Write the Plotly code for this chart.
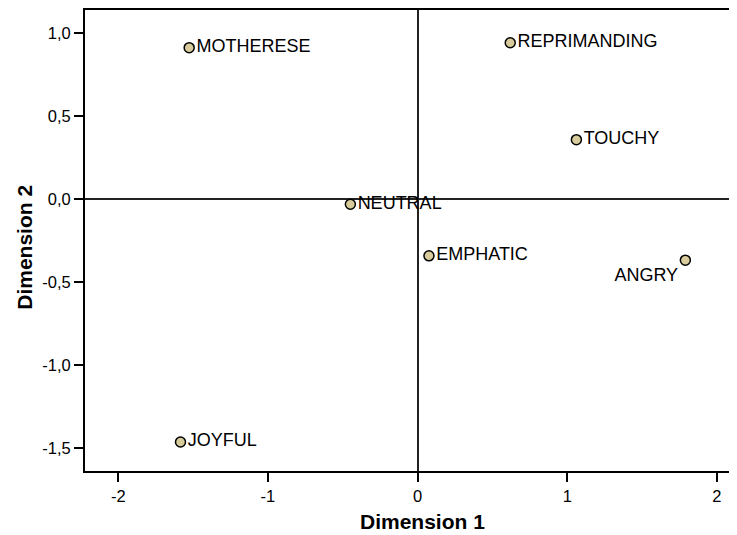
import plotly.graph_objects as go

labels = ["MOTHERESE", "REPRIMANDING", "TOUCHY", "NEUTRAL", "EMPHATIC", "ANGRY", "JOYFUL"]
dim1 = [-1.526, 0.619, 1.061, -0.449, 0.076, 1.789, -1.584]
dim2 = [0.913, 0.943, 0.359, -0.030, -0.341, -0.367, -1.462]
positions = ["middle right"] * 5 + ["bottom left", "middle right"]

x_ticks = [-2, -1, 0, 1, 2]
x_ticktext = ["-2", "-1", "0", "1", "2"]
y_ticks = [-1.5, -1.0, -0.5, 0.0, 0.5, 1.0]
y_ticktext = ["-1,5", "-1,0", "-0,5", "0,0", "0,5", "1,0"]

FONT = "Liberation Sans, Arial, sans-serif"

fig = go.Figure()
fig.add_trace(go.Scatter(
    x=dim1, y=dim2, mode="markers+text", text=labels, textposition=positions,
    marker=dict(size=10, color="#D8CC9C", line=dict(color="black", width=1.5)),
    textfont=dict(family=FONT, size=18, color="black"),
    cliponaxis=False, hoverinfo="skip", showlegend=False,
))

axis_font = dict(family=FONT, size=16.5, color="black")
fig.update_layout(
    width=729, height=527,
    margin=dict(l=77, r=0, t=2, b=64, autoexpand=False),
    plot_bgcolor="white", paper_bgcolor="white",
    xaxis=dict(range=[-2.222, 2.134], tickvals=x_ticks, ticktext=x_ticktext,
               showgrid=False, zeroline=True, zerolinecolor="#222", zerolinewidth=1.5,
               showline=True, linecolor="black", linewidth=2, mirror=True,
               ticks="outside", ticklen=9, tickwidth=2, tickcolor="black",
               tickfont=axis_font, automargin=False),
    yaxis=dict(range=[-1.637, 1.140], tickvals=y_ticks, ticktext=y_ticktext,
               showgrid=False, zeroline=True, zerolinecolor="#222", zerolinewidth=1.5,
               showline=True, linecolor="black", linewidth=2, mirror=False,
               ticks="outside", ticklen=9, tickwidth=2, tickcolor="black",
               tickfont=axis_font, automargin=False),
    annotations=[
        dict(text="<b>Dimension 1</b>", xref="paper", yref="paper", x=0.517, y=-0.11,
             xanchor="center", yanchor="middle", showarrow=False,
             font=dict(family=FONT, size=21, color="black")),
        dict(text="<b>Dimension 2</b>", xref="paper", yref="paper", x=-0.093, y=0.485,
             xanchor="center", yanchor="middle", textangle=-90, showarrow=False,
             font=dict(family=FONT, size=21, color="black")),
    ],
)

fig.write_html("out.html")
